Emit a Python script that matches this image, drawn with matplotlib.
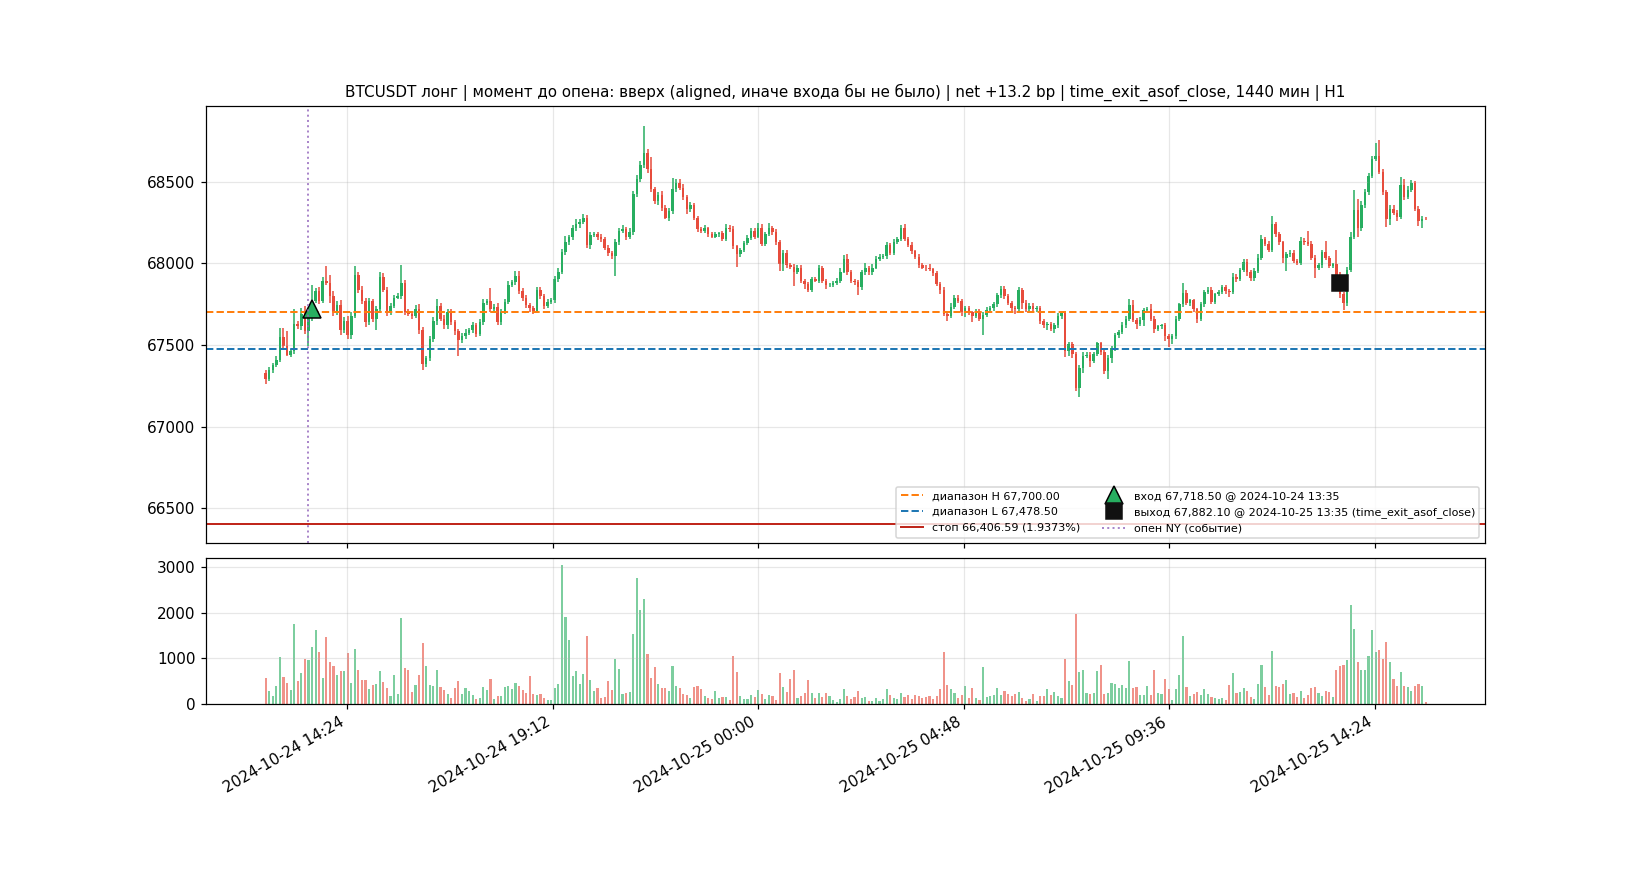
import numpy as np
import pandas as pd
import matplotlib
matplotlib.use("Agg")
import matplotlib.pyplot as plt
import matplotlib.dates as mdates
from matplotlib.ticker import MultipleLocator

# 5-minute candles, 2024-10-24 12:30 .. 2024-10-25 15:35
times = pd.date_range("2024-10-24 12:30", periods=326, freq="5min")
first_open = 67330

closes = [
    67290, 67345, 67375, 67410, 67550, 67495, 67440, 67465, 67630, 67615, 67690, 67585, 67665, 67770, 67830, 67770, 67895, 67880, 67800, 67700,
    67745, 67590, 67650, 67560, 67680, 67930, 67835, 67770, 67640, 67770, 67660, 67720, 67920, 67840, 67700, 67740, 67790, 67800, 67880, 67700,
    67690, 67680, 67720, 67590, 67385, 67420, 67535, 67645, 67740, 67660, 67620, 67700, 67640, 67585, 67530, 67555, 67575, 67590, 67620, 67570,
    67640, 67760, 67770, 67720, 67735, 67640, 67705, 67765, 67870, 67885, 67925, 67830, 67790, 67745, 67725, 67710, 67835, 67800, 67740, 67765,
    67775, 67905, 67950, 68070, 68130, 68160, 68215, 68240, 68255, 68280, 68110, 68175, 68180, 68160, 68150, 68095, 68065, 68045, 68130, 68200,
    68210, 68165, 68195, 68425, 68515, 68605, 68675, 68580, 68455, 68385, 68420, 68340, 68280, 68320, 68455, 68490, 68465, 68405, 68335, 68355,
    68280, 68210, 68200, 68215, 68180, 68165, 68180, 68185, 68150, 68220, 68210, 68105, 68055, 68080, 68125, 68155, 68200, 68165, 68220, 68120,
    68180, 68215, 68190, 68130, 67995, 68065, 67990, 67980, 67950, 67975, 67895, 67875, 67840, 67905, 67895, 67970, 67895, 67865, 67870, 67880,
    67895, 67950, 68025, 67945, 67895, 67885, 67855, 67945, 67970, 67945, 67975, 68030, 68040, 68045, 68110, 68065, 68130, 68150, 68215, 68150,
    68115, 68075, 68040, 67990, 67975, 67970, 67965, 67940, 67875, 67840, 67690, 67680, 67735, 67790, 67770, 67700, 67725, 67700, 67680, 67705,
    67660, 67685, 67715, 67725, 67750, 67805, 67845, 67800, 67760, 67725, 67720, 67835, 67760, 67720, 67740, 67720, 67725, 67645, 67620, 67630,
    67600, 67620, 67675, 67695, 67465, 67505, 67445, 67240, 67360, 67435, 67440, 67405, 67445, 67510, 67455, 67340, 67420, 67480, 67560, 67580,
    67620, 67660, 67745, 67655, 67630, 67655, 67715, 67720, 67660, 67600, 67615, 67620, 67555, 67535, 67555, 67660, 67750, 67820, 67760, 67775,
    67720, 67660, 67750, 67825, 67840, 67765, 67810, 67825, 67855, 67830, 67825, 67920, 67905, 67960, 68010, 67950, 67910, 67955, 68035, 68150,
    68120, 68085, 68240, 68180, 68130, 68035, 68055, 68065, 68015, 68005, 68140, 68130, 68120, 68035, 67975, 67990, 68070, 68035, 67985, 67995,
    67925, 67810, 67755, 67960, 68165, 68330, 68220, 68355, 68435, 68535, 68640, 68660, 68560, 68435, 68275, 68335, 68310, 68285, 68480, 68410,
    68450, 68490, 68335, 68260, 68275, 68270,
]

# wick lengths above / below the body, in USD
upper_wick = [
    15, 20, 15, 20, 55, 55, 90, 10, 90, 20, 35, 50, 20, 95, 20, 25, 20, 90, 50, 30,
    25, 30, 20, 25, 20, 55, 20, 25, 20, 20, 15, 20, 30, 20, 15, 20, 15, 20, 110, 20,
    20, 15, 25, 30, 20, 15, 20, 25, 40, 20, 25, 20, 20, 15, 15, 20, 25, 15, 20, 15,
    20, 25, 15, 80, 15, 20, 15, 20, 20, 15, 27, 30, 20, 15, 15, 15, 20, 20, 15, 15,
    15, 20, 25, 20, 40, 15, 20, 30, 15, 20, 15, 20, 15, 15, 20, 15, 15, 10, 20, 20,
    25, 15, 20, 20, 25, 20, 170, 25, 70, 15, 20, 25, 15, 20, 70, 25, 25, 20, 15, 20,
    15, 10, 15, 20, 10, 15, 15, 10, 15, 20, 15, 20, 10, 15, 15, 20, 15, 15, 30, 20,
    15, 35, 15, 20, 15, 15, 20, 10, 15, 15, 15, 10, 10, 15, 10, 20, 15, 10, 10, 15,
    15, 20, 25, 30, 15, 10, 15, 15, 30, 15, 20, 15, 15, 10, 20, 15, 20, 15, 20, 25,
    15, 15, 10, 15, 10, 15, 25, 10, 15, 10, 15, 15, 20, 15, 15, 15, 15, 15, 10, 15,
    15, 15, 20, 15, 15, 15, 15, 15, 15, 10, 15, 20, 15, 15, 15, 15, 15, 15, 15, 10,
    10, 15, 20, 10, 15, 15, 15, 15, 20, 20, 15, 15, 15, 10, 10, 15, 20, 15, 15, 15,
    20, 20, 35, 30, 10, 15, 15, 15, 30, 15, 10, 10, 15, 10, 15, 15, 10, 60, 15, 10,
    5, 10, 15, 10, 15, 15, 10, 15, 15, 15, 15, 20, 15, 15, 15, 15, 10, 15, 20, 25,
    15, 15, 50, 15, 15, 10, 15, 15, 20, 15, 20, 15, 70, 15, 15, 10, 15, 65, 10, 10,
    90, 20, 15, 20, 25, 120, 65, 25, 20, 20, 20, 75, 98, 20, 15, 20, 20, 15, 47, 40,
    25, 20, 15, 15, 15, 10,
]
lower_wick = [
    30, 10, 15, 10, 15, 15, 10, 15, 20, 15, 20, 20, 90, 20, 15, 20, 15, 15, 40, 20,
    15, 30, 15, 25, 20, 15, 15, 20, 30, 15, 20, 70, 15, 15, 20, 15, 15, 10, 15, 15,
    15, 20, 15, 20, 40, 20, 15, 15, 20, 15, 20, 20, 15, 25, 95, 15, 20, 15, 15, 20,
    15, 20, 15, 15, 20, 20, 15, 15, 15, 15, 15, 15, 20, 15, 20, 20, 15, 15, 20, 15,
    15, 15, 20, 15, 20, 15, 15, 15, 20, 15, 15, 20, 15, 15, 20, 15, 20, 15, 122, 15,
    15, 20, 15, 20, 15, 15, 20, 25, 20, 20, 25, 20, 10, 20, 15, 15, 15, 15, 30, 20,
    15, 20, 15, 15, 15, 10, 10, 15, 15, 15, 15, 15, 75, 15, 10, 15, 10, 15, 10, 15,
    15, 10, 15, 15, 40, 40, 15, 15, 90, 15, 15, 30, 15, 15, 10, 15, 15, 20, 10, 15,
    10, 15, 10, 15, 15, 15, 50, 20, 15, 15, 15, 10, 15, 10, 15, 15, 15, 10, 15, 15,
    15, 20, 15, 20, 10, 15, 10, 15, 15, 25, 15, 30, 15, 15, 15, 25, 30, 15, 40, 15,
    15, 96, 15, 15, 15, 15, 15, 15, 15, 15, 30, 15, 40, 15, 15, 15, 15, 15, 15, 30,
    15, 25, 15, 15, 40, 30, 25, 22, 60, 30, 15, 40, 15, 15, 15, 20, 50, 30, 15, 15,
    15, 15, 15, 15, 30, 15, 40, 15, 15, 25, 15, 15, 30, 45, 30, 15, 15, 15, 15, 20,
    15, 25, 15, 15, 15, 15, 15, 10, 15, 15, 30, 15, 20, 15, 15, 25, 15, 15, 15, 15,
    15, 15, 15, 15, 15, 35, 81, 15, 15, 15, 15, 15, 15, 15, 65, 15, 15, 15, 15, 15,
    15, 20, 40, 15, 15, 15, 60, 20, 15, 15, 10, 15, 15, 15, 50, 40, 15, 25, 15, 20,
    15, 15, 15, 30, 40, 5,
]

volumes = [
    564, 278, 168, 388, 1026, 586, 454, 300, 1751, 498, 674, 982, 960, 1245, 1619, 1136, 564, 1465, 916, 828,
    630, 718, 718, 1114, 454, 1201, 740, 520, 520, 322, 410, 432, 718, 476, 344, 168, 630, 212, 1883, 784,
    740, 256, 410, 630, 1333, 828, 410, 388, 740, 366, 300, 212, 125, 344, 498, 212, 344, 278, 190, 103,
    125, 366, 300, 542, 103, 168, 168, 366, 388, 322, 454, 388, 300, 234, 608, 212, 190, 212, 125, 81,
    81, 344, 432, 3048, 1905, 1399, 608, 718, 432, 652, 1487, 520, 278, 344, 125, 147, 498, 300, 982, 762,
    212, 234, 256, 1531, 2762, 2059, 2300, 1092, 564, 806, 432, 344, 344, 278, 828, 388, 344, 212, 190, 125,
    366, 388, 322, 168, 125, 103, 278, 125, 147, 147, 81, 1048, 696, 168, 103, 103, 190, 147, 300, 212,
    103, 190, 168, 81, 674, 366, 256, 542, 740, 125, 168, 234, 520, 234, 125, 234, 147, 234, 168, 81,
    37, 103, 322, 168, 103, 147, 278, 125, 147, 59, 59, 125, 59, 103, 322, 190, 125, 103, 234, 147,
    190, 103, 190, 168, 125, 147, 168, 103, 168, 322, 1136, 410, 322, 234, 125, 190, 388, 125, 344, 125,
    81, 806, 147, 168, 190, 344, 190, 278, 212, 168, 212, 256, 125, 59, 103, 212, 59, 168, 168, 322,
    190, 256, 168, 125, 982, 498, 410, 1971, 696, 740, 234, 212, 234, 718, 850, 212, 234, 454, 432, 344,
    410, 344, 938, 344, 366, 190, 190, 388, 190, 740, 234, 212, 542, 322, 81, 322, 630, 1487, 366, 168,
    212, 256, 190, 322, 212, 147, 125, 103, 125, 81, 410, 674, 234, 256, 344, 278, 147, 103, 432, 850,
    366, 190, 1157, 388, 366, 432, 520, 212, 234, 147, 278, 125, 190, 344, 366, 234, 168, 278, 256, 147,
    740, 828, 850, 960, 2168, 1641, 916, 740, 740, 1048, 1619, 1136, 1179, 982, 1355, 916, 542, 388, 696, 388,
    366, 278, 388, 432, 388, 37,
]

range_high = 67700.00
range_low = 67478.50
stop_price = 66406.59
entry_time, entry_price = "2024-10-24 13:35", 67718.50
exit_time, exit_price = "2024-10-25 13:35", 67882.10
ny_open = "2024-10-24 13:30"

GREEN = "#27ae60"
RED = "#e74c3c"

x = mdates.date2num(times.to_pydatetime())
c = np.array(closes, dtype=float)
o = np.concatenate([[first_open], c[:-1]])
hi = np.maximum(o, c) + np.array(upper_wick)
lo = np.minimum(o, c) - np.array(lower_wick)
up = c >= o
colors = np.where(up, GREEN, RED)

step = 5 / 1440

fig, (ax, axv) = plt.subplots(2, 1, figsize=(15, 8), sharex=True,
                              gridspec_kw={"height_ratios": [3, 1], "hspace": 0.05})

ax.vlines(x, lo, hi, colors=colors, linewidth=1.0)
body = np.maximum(np.abs(c - o), 1.0)
ax.bar(x, body, bottom=np.minimum(o, c), width=step * 0.7, color=colors)

ax.axhline(range_high, color="C1", linestyle="--", linewidth=1.3,
           label=f"диапазон H {range_high:,.2f}")
ax.axhline(range_low, color="C0", linestyle="--", linewidth=1.3,
           label=f"диапазон L {range_low:,.2f}")
stop_pct = (entry_price - stop_price) / entry_price * 100
ax.axhline(stop_price, color="#c0261b", linewidth=1.3,
           label=f"стоп {stop_price:,.2f} ({stop_pct:.4f}%)")

ex = mdates.date2num(pd.Timestamp(entry_time).to_pydatetime())
xx = mdates.date2num(pd.Timestamp(exit_time).to_pydatetime())
ax.plot([ex], [entry_price], marker="^", markersize=12, color=GREEN,
        markeredgecolor="black", linestyle="none",
        label=f"вход {entry_price:,.2f} @ {entry_time}")
ax.plot([xx], [exit_price], marker="s", markersize=11, color="#111111",
        linestyle="none",
        label=f"выход {exit_price:,.2f} @ {exit_time} (time_exit_asof_close)")
ax.axvline(mdates.date2num(pd.Timestamp(ny_open).to_pydatetime()), color="C4",
           linestyle=":", linewidth=1.3, alpha=0.8, label="опен NY (событие)")

ax.set_title("BTCUSDT лонг | момент до опена: вверх (aligned, иначе входа бы не было) | "
             "net +13.2 bp | time_exit_asof_close, 1440 мин | H1", fontsize=9.9)
ax.grid(alpha=0.3)
ax.legend(loc="lower right", ncol=2, fontsize=7.3)

axv.bar(x, volumes, width=step * 0.6, color=colors, alpha=0.6)
axv.grid(alpha=0.3)

axv.xaxis.set_major_locator(MultipleLocator(0.2))
axv.xaxis.set_major_formatter(mdates.DateFormatter("%Y-%m-%d %H:%M"))
fig.autofmt_xdate()

fig.savefig("out.png", dpi=110)
